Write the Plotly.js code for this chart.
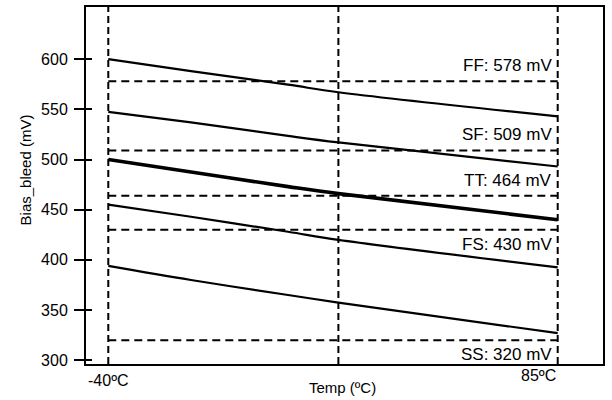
<!DOCTYPE html>
<html>
<head>
<meta charset="utf-8">
<script src="https://cdn.plot.ly/plotly-3.0.1.min.js"></script>
<style>html,body{margin:0;padding:0;background:#fff;}#chart{width:612px;height:400px;}</style>
</head>
<body>
<div id="chart"></div>
<script>
// Temperature sample points (°C)
const temps = [-40, -17, 10, 24, 85];
// Bias_bleed (mV) per process corner
const ffVals = [600, 588, 574.5, 567, 543];
const sfVals = [547.5, 537, 523.5, 517, 493];
const ttVals = [500, 487.5, 473, 466, 440];
const fsVals = [455, 443, 428, 420, 392.5];
const ssVals = [394, 380, 365, 357.5, 327];

// Reference levels (mV) and their labels
const refCorners = ["FF", "SF", "TT", "FS", "SS"];
const refLevels = [578, 509, 464, 430, 320];
const refBelow = [false, false, false, true, true];

// Vertical reference temperatures
const vLines = [-40, 24, 85];
const xTickVals = [-40, 85];
const xTickText = ["-40ºC", "85ºC"];
const yTickVals = [300, 350, 400, 450, 500, 550, 600];

const FONT = "Liberation Sans, Arial, Helvetica, sans-serif";
const seriesList = [
  {name: "FF", y: ffVals, w: 2.2},
  {name: "SF", y: sfVals, w: 2.2},
  {name: "TT", y: ttVals, w: 3.6},
  {name: "FS", y: fsVals, w: 2.2},
  {name: "SS", y: ssVals, w: 2.2}
];

const traces = [];
seriesList.forEach(s => {
  traces.push({x: temps, y: s.y, type: "scatter", mode: "lines", name: s.name,
    line: {color: "#000", width: s.w, shape: "spline", smoothing: 1}, showlegend: false, hoverinfo: "skip"});
});
refLevels.forEach((v, i) => {
  traces.push({x: [vLines[0], vLines[2]], y: [v, v], type: "scatter", mode: "lines",
    line: {color: "#000", width: 2, dash: "8px,5px"}, showlegend: false, hoverinfo: "skip"});
});
// non-drawing trace that attaches the overlay axis drawing the inner half of the y ticks
traces.push({x: temps, y: ttVals, yaxis: "y2", type: "scatter", mode: "none", showlegend: false, hoverinfo: "skip"});

const shapes = vLines.map(v => ({type: "line", xref: "x", yref: "paper", x0: v, x1: v, y0: 0, y1: 1,
  line: {color: "#000", width: 2, dash: "7px,4px"}}));

const annotations = [];
refLevels.forEach((v, i) => {
  annotations.push({x: vLines[2], y: v, xref: "x", yref: "y", text: refCorners[i] + ": " + v + " mV",
    showarrow: false, xanchor: "right", yanchor: refBelow[i] ? "top" : "bottom",
    xshift: -4, yshift: refBelow[i] ? -3 : 4, font: {family: FONT, size: 17, color: "#000"}});
});
annotations.push({x: xTickVals[0], y: -0.045, xref: "x", yref: "paper", text: xTickText[0], showarrow: false,
  xanchor: "center", yanchor: "middle", font: {family: FONT, size: 16, color: "#000"}});
annotations.push({x: xTickVals[1], y: -0.033, xref: "x", yref: "paper", text: xTickText[1], showarrow: false,
  xanchor: "right", yanchor: "middle", font: {family: FONT, size: 16, color: "#000"}});
annotations.push({x: 0.497, y: -0.066, xref: "paper", yref: "paper", text: "Temp (ºC)", showarrow: false,
  xanchor: "center", yanchor: "middle", font: {family: FONT, size: 15, color: "#000"}});
annotations.push({x: -0.118, y: 0.545, xref: "paper", yref: "paper", text: "Bias_bleed (mV)", showarrow: false,
  textangle: -90, xanchor: "center", yanchor: "middle", font: {family: FONT, size: 15, color: "#000"}});

const yRange = [296.3, 651.9];
const layout = {
  width: 612, height: 400,
  margin: {l: 86, r: 9, t: 7, b: 36, pad: 0},
  paper_bgcolor: "#fff", plot_bgcolor: "#fff",
  font: {family: FONT, color: "#000"},
  xaxis: {range: [-46.2, 97.6], showgrid: false, zeroline: false, showticklabels: false, ticks: "",
    showline: true, mirror: true, linecolor: "#000", linewidth: 2},
  yaxis: {range: yRange, tickvals: yTickVals, ticks: "outside", ticklen: 10, tickwidth: 2, tickcolor: "#000",
    showgrid: false, zeroline: false, showline: true, mirror: true, linecolor: "#000", linewidth: 2,
    tickfont: {family: FONT, size: 16, color: "#000"}, ticklabelstandoff: 3},
  yaxis2: {range: yRange, overlaying: "y", anchor: "x", side: "left", tickvals: yTickVals, ticks: "inside",
    ticklen: 6, tickwidth: 2, tickcolor: "#000", showticklabels: false, showgrid: false, zeroline: false, showline: false},
  shapes: shapes,
  annotations: annotations,
  showlegend: false
};
Plotly.newPlot("chart", traces, layout, {staticPlot: true, displayModeBar: false});
</script>
</body>
</html>
